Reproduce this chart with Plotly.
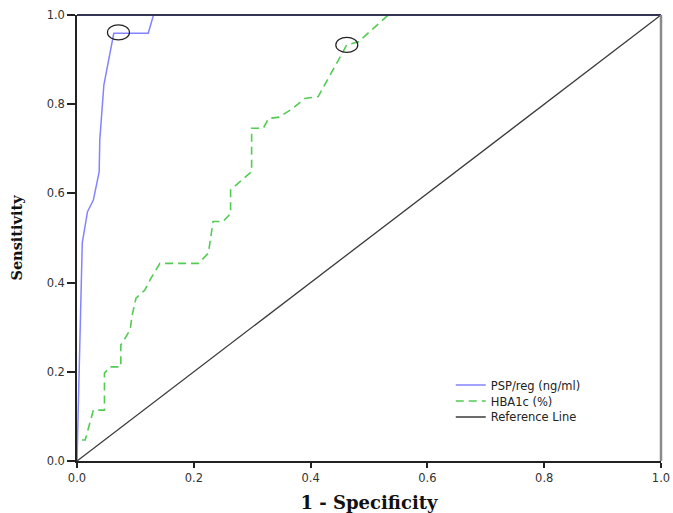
import plotly.graph_objects as go

# ROC data
psp_fpr = [0, 0.006, 0.009, 0.018, 0.028, 0.038, 0.039, 0.046, 0.063, 0.122, 0.131, 1.0]
psp_tpr = [0, 0.287, 0.489, 0.559, 0.585, 0.649, 0.720, 0.843, 0.959, 0.959, 1.0, 1.0]

hba_fpr = [0, 0, 0.014, 0.028, 0.047, 0.047, 0.057, 0.075, 0.075, 0.091, 0.094, 0.101,
           0.116, 0.125, 0.142, 0.208, 0.225, 0.233, 0.250, 0.263, 0.263, 0.299, 0.299,
           0.319, 0.328, 0.346, 0.370, 0.390, 0.413, 0.436, 0.462, 0.482, 0.533, 1.0]
hba_tpr = [0, 0.047, 0.047, 0.114, 0.114, 0.197, 0.211, 0.211, 0.260, 0.294, 0.324, 0.365,
           0.383, 0.406, 0.443, 0.443, 0.466, 0.537, 0.537, 0.555, 0.608, 0.649, 0.746,
           0.746, 0.768, 0.771, 0.791, 0.813, 0.817, 0.873, 0.933, 0.940, 1.0, 1.0]

ref_x = [0, 1]
ref_y = [0, 1]

# selected cut-off points (circled)
cut_x = [0.071, 0.462]
cut_y = [0.961, 0.933]

x_ticks = [0.0, 0.2, 0.4, 0.6, 0.8, 1.0]
y_ticks = [0.0, 0.2, 0.4, 0.6, 0.8, 1.0]
tick_text = ["0.0", "0.2", "0.4", "0.6", "0.8", "1.0"]

BLUE = "#8484ff"
GREEN = "#52cc52"
REF = "#3a3a3a"

fig = go.Figure()
fig.add_trace(go.Scatter(x=psp_fpr, y=psp_tpr, mode="lines", name="PSP/reg (ng/ml)",
                         legend="legend", line=dict(color=BLUE, width=1.5)))
fig.add_trace(go.Scatter(x=hba_fpr, y=hba_tpr, mode="lines", name="HBA1c (%)",
                         legend="legend2", line=dict(color=GREEN, width=1.6, dash="8px,5px")))
fig.add_trace(go.Scatter(x=ref_x, y=ref_y, mode="lines", name="Reference Line",
                         legend="legend3", line=dict(color=REF, width=1.3)))

shapes = []
for cx, cy in zip(cut_x, cut_y):
    shapes.append(dict(type="circle", xref="x", yref="y", xsizemode="pixel", ysizemode="pixel",
                       xanchor=cx, yanchor=cy, x0=-11, x1=11, y0=-7.5, y1=7.5,
                       line=dict(color="#222222", width=1.2)))
# frame: top (dark) and right (grey)
shapes.append(dict(type="line", xref="paper", yref="paper", x0=0, x1=1, y0=1, y1=1,
                   line=dict(color="#333355", width=2)))
shapes.append(dict(type="line", xref="paper", yref="paper", x0=1, x1=1, y0=0, y1=1,
                   line=dict(color="#8a8a8a", width=2.5)))

legend_font = dict(family="DejaVu Sans", size=11.5, color="#222222")
def leg(yc):
    return dict(x=0.640, y=yc, xanchor="left", yanchor="middle", font=legend_font,
                bgcolor="rgba(0,0,0,0)", itemwidth=30)

fig.update_layout(
    width=673, height=513,
    margin=dict(l=77, r=12, t=15, b=52),
    paper_bgcolor="white", plot_bgcolor="white",
    showlegend=True,
    legend=leg(0.1704),
    legend2=leg(0.1345),
    legend3=leg(0.0987),
    shapes=shapes,
    xaxis=dict(range=[0, 1], tickvals=x_ticks, ticktext=tick_text, showgrid=False, zeroline=False,
               automargin=False,
               showline=True, linecolor="#222222", linewidth=1.5, ticks="outside", ticklen=5,
               tickcolor="#222222", tickwidth=1.5,
               tickfont=dict(family="DejaVu Sans", size=11.5, color="#333333"),
               title=dict(text="<b>1 - Specificity</b>", standoff=16,
                          font=dict(family="DejaVu Serif", size=18, color="#111111"))),
    yaxis=dict(range=[0, 1], tickvals=y_ticks, ticktext=tick_text, showgrid=False, zeroline=False,
               automargin=False,
               showline=True, linecolor="#222222", linewidth=1.5, ticks="outside", ticklen=8,
               tickcolor="#222222", tickwidth=1.5,
               tickfont=dict(family="DejaVu Sans", size=11.5, color="#333333"),
               title=dict(text="<b>Sensitivity</b>", standoff=21,
                          font=dict(family="DejaVu Serif", size=14.5, color="#111111"))),
)

fig.write_html("out.html", config={"displayModeBar": False},
               post_script="document.body.style.margin='0';")
